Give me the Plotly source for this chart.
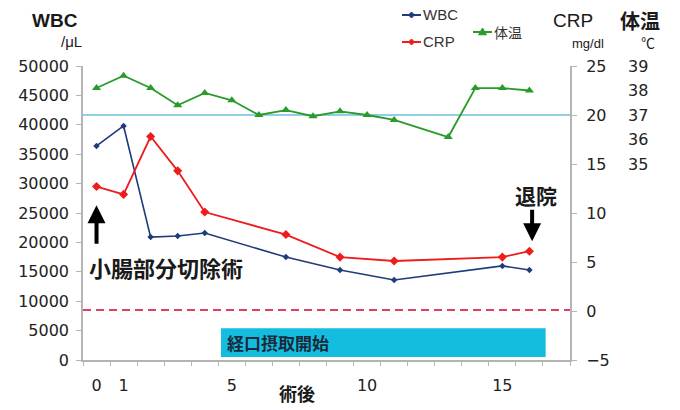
import plotly.graph_objects as go

# ---------------- data ----------------
days_wbc = [0, 1, 2, 3, 4, 7, 9, 11, 15, 16]
wbc = [36400, 39800, 20900, 21100, 21600, 17500, 15300, 13600, 16000, 15300]

days_crp = [0, 1, 2, 3, 4, 7, 9, 11, 15, 16]
crp = [12.7, 11.9, 17.8, 14.3, 10.1, 7.8, 5.5, 5.1, 5.5, 6.1]

days_temp = [0, 1, 2, 3, 4, 5, 6, 7, 8, 9, 10, 11, 13, 14, 15, 16]
temp = [38.1, 38.6, 38.1, 37.4, 37.9, 37.6, 37.0, 37.2, 36.95, 37.15, 37.0, 36.8, 36.1, 38.1, 38.1, 38.0]

x_tick_vals = [0, 1, 5, 10, 15]
x_minor_ticks = [d - 0.5 for d in range(0, 19)]
wbc_ticks = list(range(0, 50001, 5000))
crp_ticks = [-5, 0, 5, 10, 15, 20, 25]
temp_ticks = [35, 36, 37, 38, 39]

wbc_upper_limit = 8500      # red dashed reference line
temp_reference = 37         # light blue reference line
oral_start_day, oral_end_day = 4.6, 16.6
oral_box_wbc = (500, 5400)
surgery_day, discharge_day = 0, 16.1

# ---------------- style ----------------
W, H = 680, 410
ML, MR, MT, MB = 83, 10, 66, 50
PW, PH = W - ML - MR, H - MT - MB


def px(x):
    return (x - ML) / PW


def py(y):
    return (H - MB - y) / PH


C_WBC = "#1f3b7a"
C_CRP = "#ee1c1c"
C_TEMP = "#2a9a2a"
C_AX = "#b4b4b4"
C_TXT = "#1a1a1a"
FONT = "Liberation Sans, Noto Sans CJK JP, sans-serif"
NUMFONT = "DejaVu Sans, sans-serif"
JFONT = "Noto Sans CJK JP, sans-serif"

fig = go.Figure()
fig.add_trace(go.Scatter(x=days_wbc, y=wbc, mode="lines+markers", name="WBC",
                         line=dict(color=C_WBC, width=1.6),
                         marker=dict(symbol="diamond", size=5, color=C_WBC), yaxis="y"))
fig.add_trace(go.Scatter(x=days_crp, y=crp, mode="lines+markers", name="CRP",
                         line=dict(color=C_CRP, width=1.8),
                         marker=dict(symbol="diamond", size=7, color=C_CRP), yaxis="y2"))
fig.add_trace(go.Scatter(x=days_temp, y=temp, mode="lines+markers", name="体温",
                         line=dict(color=C_TEMP, width=1.8),
                         marker=dict(symbol="triangle-up", size=8, color=C_TEMP), yaxis="y3"))
# invisible trace only to activate the minor-tick x axis
fig.add_trace(go.Scatter(x=[x_minor_ticks[0]], y=[0], mode="markers", xaxis="x2", yaxis="y",
                         marker=dict(opacity=0), hoverinfo="skip", showlegend=False))

shapes = [
    dict(type="line", xref="x domain", x0=0, x1=1, yref="y3", y0=temp_reference, y1=temp_reference,
         line=dict(color="#8fd0e4", width=2), layer="below"),
    dict(type="line", xref="x domain", x0=0, x1=1, yref="y", y0=wbc_upper_limit, y1=wbc_upper_limit,
         line=dict(color="#e0405a", width=2, dash="8px,5px")),
    dict(type="rect", xref="x", yref="y", x0=oral_start_day, x1=oral_end_day,
         y0=oral_box_wbc[0], y1=oral_box_wbc[1], fillcolor="#14bde0", line=dict(width=0), layer="below"),
]


def legend_item(x0, y, color, symbol):
    shapes.append(dict(type="line", xref="paper", yref="paper", x0=px(x0), x1=px(x0 + 19),
                       y0=py(y), y1=py(y), line=dict(color=color, width=2)))
    cx = x0 + 9.5
    if symbol == "diamond":
        r = 3
        path = (f"M{px(cx)},{py(y - r)} L{px(cx + r)},{py(y)} L{px(cx)},{py(y + r)} "
                f"L{px(cx - r)},{py(y)} Z")
    else:
        r = 4
        path = (f"M{px(cx)},{py(y - r)} L{px(cx + r)},{py(y + r * 0.7)} "
                f"L{px(cx - r)},{py(y + r * 0.7)} Z")
    shapes.append(dict(type="path", xref="paper", yref="paper", path=path,
                       fillcolor=color, line=dict(color=color, width=1)))


legend_item(402, 15, C_WBC, "diamond")
legend_item(402, 42, C_CRP, "diamond")
legend_item(473, 32, C_TEMP, "triangle")


def txt(text, x, y, size, bold=False, anchor="center", family=FONT, color=C_TXT):
    return dict(text=f"<b>{text}</b>" if bold else text, xref="paper", yref="paper",
                x=px(x), y=py(y), xanchor=anchor, yanchor="middle", showarrow=False,
                font=dict(size=size, family=family, color=color))


annotations = [
    txt("WBC", 55, 21, 19, bold=True),
    txt("/μL", 71, 42, 15),
    txt("CRP", 573, 20, 19),
    txt("mg/dl", 588, 43, 13),
    txt("体温", 640, 20, 20, bold=True, family=JFONT),
    txt("℃", 648, 43, 14),
    txt("WBC", 421, 15, 15, anchor="left", color="#333"),
    txt("CRP", 421, 42, 15, anchor="left", color="#333"),
    txt("体温", 492, 32, 14, anchor="left", family=JFONT, color="#333"),
    txt("術後", 297, 393, 18, bold=True, family=JFONT),
    txt("小腸部分切除術", 166, 267, 22, bold=True, family=JFONT),
    txt("退院", 536, 195, 21, bold=True, family=JFONT),
    dict(text="<b>経口摂取開始</b>", xref="x", yref="y", x=oral_start_day + 0.15,
         y=sum(oral_box_wbc) / 2, xanchor="left", yanchor="middle", showarrow=False,
         font=dict(size=17, family=JFONT, color="#1a2a3a")),
    # surgery arrow (pointing up)
    dict(text="", xref="x", yref="y", x=surgery_day, y=26300, axref="x", ayref="y",
         ax=surgery_day, ay=19500, showarrow=True, arrowhead=2, arrowsize=0.9,
         arrowwidth=4, arrowcolor="#000"),
    # discharge arrow (pointing down)
    dict(text="", xref="x", yref="y", x=discharge_day, y=20200, axref="x", ayref="y",
         ax=discharge_day, ay=25800, showarrow=True, arrowhead=2, arrowsize=0.9,
         arrowwidth=4, arrowcolor="#000"),
]

tickfont = dict(size=16, family=NUMFONT, color="#222")
x_domain = [0, px(570)]

fig.update_layout(
    width=W, height=H, margin=dict(l=ML, r=MR, t=MT, b=MB, autoexpand=False),
    paper_bgcolor="white", plot_bgcolor="white", showlegend=False,
    shapes=shapes, annotations=annotations,
    xaxis=dict(domain=x_domain, range=[-0.5, 17.5], tickvals=x_tick_vals,
               ticktext=[str(v) for v in x_tick_vals], ticks="", showline=True,
               linecolor=C_AX, linewidth=1.5, showgrid=False, zeroline=False,
               tickfont=tickfont, ticklabelstandoff=10, automargin=False),
    xaxis2=dict(overlaying="x", anchor="y", side="bottom", domain=x_domain, range=[-0.5, 17.5],
                tickvals=x_minor_ticks, ticks="outside", ticklen=5, tickcolor=C_AX,
                showticklabels=False, showline=False, showgrid=False, zeroline=False,
                automargin=False),
    yaxis=dict(range=[0, 50000], tickvals=wbc_ticks, ticktext=[str(v) for v in wbc_ticks],
               ticks="outside", ticklen=5,
               tickcolor=C_AX, showline=True, linecolor=C_AX, linewidth=1.5,
               showgrid=False, zeroline=False, tickfont=tickfont, ticklabelstandoff=4,
               automargin=False),
    yaxis2=dict(overlaying="y", side="right", anchor="x", range=[-5, 25],
                tickvals=crp_ticks, ticks="outside", ticklen=5, tickcolor=C_AX,
                showline=True, linecolor=C_AX, linewidth=2, showgrid=False,
                zeroline=False, tickfont=tickfont, ticklabelstandoff=6, automargin=False),
    yaxis3=dict(overlaying="y", side="right", anchor="free", position=px(627),
                range=[27, 39], tickvals=temp_ticks, ticks="", showline=False,
                showgrid=False, zeroline=False, tickfont=tickfont, automargin=False),
)

fig.write_html("out.html", config={"displayModeBar": False},
               post_script="document.body.style.margin='0';document.body.style.overflow='hidden';")
